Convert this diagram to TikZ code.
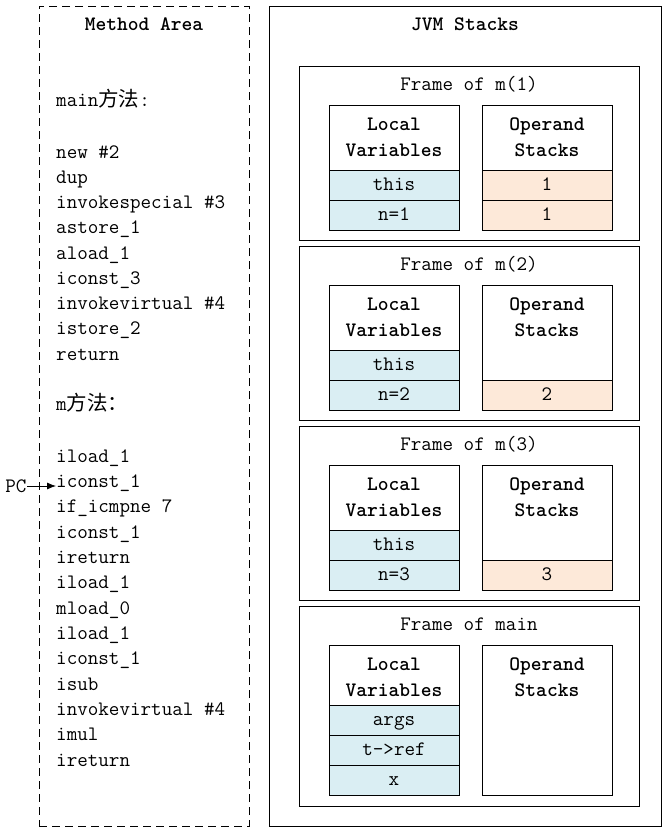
\documentclass[tikz,border=0pt]{standalone}
\usepackage{fontspec}
\newfontfamily\cjk{Noto Sans CJK SC}
\usetikzlibrary{arrows.meta}
\definecolor{lvblue}{HTML}{DAEEF3}
\definecolor{oporange}{HTML}{FDE9D9}
\tikzset{
  every node/.style={font=\fontsize{20.5}{24}\selectfont\ttfamily, inner sep=0pt},
  code/.style={anchor=mid west},
  areatitle/.style={font=\fontsize{20.5}{24}\selectfont\ttfamily\bfseries},
  boxline/.style={draw, line width=0.9pt},
  areabox/.style={boxline, minimum width=#1},
  framebox/.style={boxline, minimum width=340pt},
  colbox/.style={boxline, fill=white, minimum width=130pt},
  hdrlabel/.style={align=center, font=\fontsize{20.5}{26}\selectfont\ttfamily\bfseries},
  cellbase/.style={boxline, minimum width=130pt, minimum height=30pt, text height=12pt, text depth=2pt},
  lvcell/.style={cellbase, fill=lvblue},
  opcell/.style={cellbase, fill=oporange},
  pcarrow/.style={-{Latex[length=9pt,width=7pt]}, line width=0.8pt}
}
\begin{document}
\begin{tikzpicture}[x=1pt,y=-1pt]
\useasboundingbox (0,0) rectangle (666,831);
% outer areas
\node[areabox=210pt, minimum height=820pt, dash pattern=on 8pt off 5pt] (ma) at (144,416) {};
\node[areabox=392pt, minimum height=820pt] (jvm) at (465,416) {};
\node[areatitle] (matitle) at (144,24) {Method Area};
\node[areatitle] (jvmtitle) at (465,24) {JVM Stacks};
% code lines
\node[code] (cm) at (56,104) {main{\cjk 方法}:};
\foreach \t [count=\i, evaluate=\i as \yy using 156+25.25*(\i-1)] in
  {new \#2, dup, invokespecial \#3, astore\_1, aload\_1, iconst\_3, invokevirtual \#4, istore\_2, return}
  \node[code] (c\i) at (56,\yy) {\t};
\node[code] (dm) at (56,408) {m{\cjk 方法：}};
\foreach \t [count=\i, evaluate=\i as \yy using 460+25.33*(\i-1)] in
  {iload\_1, iconst\_1, if\_icmpne 7, iconst\_1, ireturn, iload\_1, mload\_0, iload\_1, iconst\_1, isub, invokevirtual \#4, imul, ireturn}
  \node[code] (d\i) at (56,\yy) {\t};
\node (pc) at (16,486) {PC};
\draw[pcarrow] (pc) -- (pc -| d2.west);
% frames m(1), m(2), m(3)
\foreach \k/\t/\n in {1/66/1, 2/246/2, 3/426/3} {
  \node[framebox, minimum height=174pt] (f\k) at (469,\t+87) {};
  \node (f\k title) at (469,\t+18) {Frame of m(\n)};
  \node[colbox, minimum height=65pt] (f\k lv) at (394,\t+71.5) {};
  \node[hdrlabel] (f\k lvlabel) at (394,\t+71) {Local\\Variables};
  \node[lvcell] (f\k lva) at (394,\t+119) {this};
  \node[lvcell] (f\k lvb) at (394,\t+149) {n=\n};
}
% operand stacks of m frames
\node[colbox, minimum height=65pt] (f1op) at (547,137.5) {};
\node[opcell] (f1opa) at (547,185) {1};
\node[opcell] (f1opb) at (547,215) {1};
\node[colbox, minimum height=95pt] (f2op) at (547,332.5) {};
\node[opcell] (f2opa) at (547,395) {2};
\node[colbox, minimum height=95pt] (f3op) at (547,512.5) {};
\node[opcell] (f3opa) at (547,575) {3};
\foreach \k/\t in {1/66, 2/246, 3/426}
  \node[hdrlabel] (f\k oplabel) at (547,\t+71) {Operand\\Stacks};
% frame of main
\node[framebox, minimum height=200pt] (f4) at (469,706) {};
\node (f4title) at (469,624) {Frame of main};
\node[colbox, minimum height=60pt] (f4lv) at (394,675) {};
\node[hdrlabel] (f4lvlabel) at (394,677) {Local\\Variables};
\node[lvcell] (f4lva) at (394,720) {args};
\node[lvcell] (f4lvb) at (394,750) {t->ref};
\node[lvcell] (f4lvc) at (394,780) {x};
\node[colbox, minimum height=150pt] (f4op) at (547,720) {};
\node[hdrlabel] (f4oplabel) at (547,677) {Operand\\Stacks};
\end{tikzpicture}
\end{document}
